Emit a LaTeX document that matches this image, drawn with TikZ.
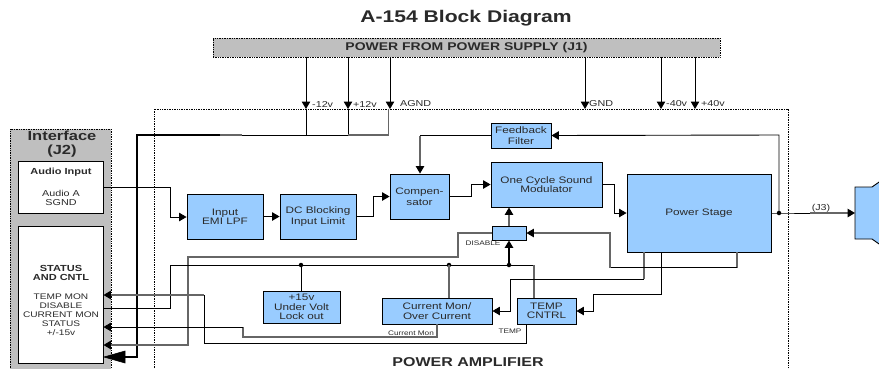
\documentclass[tikz,border=0pt]{standalone}
\usepackage{fontspec}
\setmainfont[FakeStretch=1.25,BoldFeatures={FakeStretch=1.25}]{Liberation Sans}
\usetikzlibrary{arrows.meta}
\definecolor{blk}{HTML}{99CCFF}
\definecolor{grp}{HTML}{BFBFBF}
\definecolor{grl}{HTML}{666666}
\definecolor{ink}{HTML}{2A2A2A}
\newcommand{\fs}[1]{\fontsize{#1}{#1}\selectfont}
\tikzset{
  block/.style={draw=black,fill=blk,line width=0.9pt,inner sep=0pt,align=center,text=ink,font=\fs{9.4}},
  wbox/.style={draw=black,fill=white,line width=0.9pt,inner sep=0pt,align=center,text=ink},
  pnl/.style={draw=black,fill=grp,densely dotted,line width=0.7pt},
  lbl/.style={inner sep=0pt,text=ink,font=\fs{8.6}},
  tiny/.style={inner sep=0pt,text=ink,font=\fs{6.6}},
  bl/.style={draw=black,line width=0.9pt},
  gl/.style={draw=grl,line width=1.4pt},
  to/.style={-{Triangle[length=7.5pt,width=8.5pt,color=black,fill=black]}},
  dot/.style={circle,fill=black,inner sep=0pt,minimum size=4.5pt}
}
\newcommand{\bx}[6]{\node[#1,minimum width=#5-#3,minimum height=#6-#4] (#2) at ({(#3+#5)/2},{(#4+#6)/2})}
\begin{document}
\begin{tikzpicture}[x=1pt,y=-1pt]
\clip (0,0) rectangle (879,368);
\fill[white] (0,0) rectangle (879,368);
\node[inner sep=0pt,font=\bfseries\fs{16.9},text=ink] (title) at (466,18) {A-154 Block Diagram};
% panels
\node[pnl,minimum width=507pt,minimum height=19pt,inner sep=0pt,font=\bfseries\fs{11.2},text=ink] (pwr) at (466.5,47.5) {POWER FROM POWER SUPPLY (J1)};
\draw[densely dotted,line width=0.7pt] (154,380) |- (788,109) -- (788,380);
\node[pnl,minimum width=101pt,minimum height=260pt,inner sep=0pt] (ifc) at (60.5,259) {};
\node[inner sep=0pt,align=center,font=\bfseries\fs{13.2},text=ink] (ifct) at (62,144) {Interface\\[0.5pt](J2)};
\node[inner sep=0pt,font=\bfseries\fs{12.8},text=ink] (pa) at (468,362) {POWER AMPLIFIER};
% white boxes
\bx{wbox}{audio}{18}{161}{103}{213} {};
\node[inner sep=0pt,font=\bfseries\fs{8.8},text=ink] (audiot) at (61,172) {Audio Input};
\node[lbl,align=center,font=\fs{8.6}] (audiol) at (61,197.5) {Audio A\\[0.5pt]SGND};
\bx{wbox}{stat}{18}{226}{103}{363} {};
\node[inner sep=0pt,align=center,font=\bfseries\fs{8.8},text=ink] (statt) at (61,273) {STATUS\\AND CNTL};
\node[inner sep=0pt,align=center,font=\fs{8.1},text=ink] (statl) at (61,314.5) {TEMP MON\\[1pt]DISABLE\\[1pt]CURRENT MON\\[1pt]STATUS\\[1pt]+/-15v};
% blue boxes
\bx{block}{emi}{187}{194}{263}{239} {Input\\EMI LPF};
\bx{block}{dcb}{280}{194}{356}{239} {DC Blocking\\[1pt]Input Limit};
\bx{block}{comp}{390}{174}{449}{219} {Compen-\\[1.5pt]sator};
\bx{block}{osm}{491}{162}{602}{207} {One Cycle Sound\\Modulator};
\bx{block}{fbf}{491}{123}{551}{148} {Feedback\\[1.5pt]Filter};
\bx{block}{pst}{627}{174}{771}{252} {Power Stage};
\bx{block}{dis}{492}{226}{526}{240} {};
\bx{block}{uvl}{263}{291}{340}{323} {+15v\\Under Volt\\Lock out};
\bx{block}{cmo}{382}{298}{492}{324} {Current Mon/\\Over  Current};
\bx{block}{tmp}{517}{298}{576}{324} {TEMP\\CNTRL};
% speaker
\draw[fill=blk,line width=0.9pt] (855,187) -- (872,187) -- (882,180) -- (882,246) -- (872,239) -- (855,239) -- cycle;
\coordinate (spk) at (855,213);
% free coordinates at the supply taps
\coordinate (m12) at (306,109); \coordinate (p12) at (348,109); \coordinate (agn) at (390,109);
\coordinate (gnd) at (585,109); \coordinate (m40) at (661,109); \coordinate (p40) at (695,109);
\foreach \c in {m12,p12,agn,gnd,m40,p40} \draw[bl,to,line width=1pt] (\c |- pwr.south) -- (\c);
\node[lbl,anchor=west] (lm12) at (312,104) {-12v};
\node[lbl,anchor=west] (lp12) at (353,104) {+12v};
\node[lbl,anchor=west] (lagn) at (400,104) {AGND};
\node[lbl,anchor=west] (lgnd) at (589,104) {GND};
\node[lbl,anchor=west] (lm40) at (666,104) {-40v};
\node[lbl,anchor=west] (lp40) at (701,104) {+40v};
% supply bus
\draw[bl,line width=1pt] (m12) -- (306,135);
\draw[bl,line width=1pt] (p12) -- (348,135);
\draw[gl,line width=1.1pt] (388.5,109) -- (388.5,135) -- (348,135);
\draw[bl] (348,135) -- (242,135);
\draw[grl,line width=1.2pt] (242,135) -- (220,135);
\coordinate (busin) at (104,357);
\draw[black,line width=2.4pt,line join=miter] (220,135) -- (137,135) -- (137,357) -- (122,357);
\draw[black,line width=0.6pt,fill=black] (busin) -- (125,351) -- (125,363) -- cycle;
% signal path
\draw[bl,to] (audio.east |- 0,187) -- (170,187) -- (170,217) -- (emi.west |- 0,217);
\draw[bl,to] (emi.east) -- (dcb.west);
\draw[bl,to] (dcb.east) -- (373,216.5) -- (373,196.5) -- (comp.west);
\draw[bl,to] (comp.east) -- (471,196.5) -- (471,184.5) -- (osm.west);
\draw[bl,to] (osm.east) -- (614,184.5) -- (614,213) -- (pst.west);
% feedback
\node[dot] (jfb) at (779,213) {};
\draw[bl,to] (jfb.center) -- (779,135) -- (fbf.east);
\draw[bl] (fbf.west) -- (420,135.5);
\draw[gl,to,line width=1.1pt] (420,135.5) -- (comp.north -| 420,0);
\draw[bl,line width=1pt] (pst.east) -- (jfb.center) -- (810,213);
\draw[gl,to] (810,213) -- (spk);
\node[lbl,anchor=south,font=\fs{8.6}] (j3) at (821,212) {(J3)};
% disable junction
\draw[gl,to,line width=1.1pt] (dis.north -| 509,0) -- (osm.south -| 509,0);
\node[dot] (j1) at (509,265) {};
\node[dot] (j2) at (449,265) {};
\node[dot] (j3d) at (301,265) {};
\draw[black,line width=1.4pt,to] (j1.center) -- (dis.south -| 509,0);
\node[tiny] (disl) at (483,243) {DISABLE};
\draw[gl,to] (dis.west) -- (458,233) -- (458,257) -- (188,257) -- (188,345) -- (stat.east |- 0,345);
% status rail
\draw[bl] (stat.east |- 0,308) -- (170,308) -- (170,265) -- (j1.center);
\draw[bl] (j1.center) -- (534,265);
\draw[gl,line width=1.1pt] (534,265) -- (tmp.north -| 534,0);
\draw[gl,line width=1.1pt] (j2.center) -- (cmo.north -| 449,0);
\draw[bl] (j3d.center) -- (uvl.north -| 301,0);
% monitors
\draw[gl] (cmo.south -| 437,0) -- (437,337) -- (243,337) -- (243,327);
\draw[bl,to] (243,327) -- (stat.east |- 0,327);
\node[tiny] (cml) at (411,333) {Current Mon};
\draw[bl] (tmp.south -| 526,0) -- (526,343) -- (204,343) -- (204,295);
\draw[gl,to] (204,295) -- (stat.east |- 0,295);
\node[tiny] (tl) at (510,331) {TEMP};
% power stage returns
\draw[gl,line width=1.1pt] (pst.south -| 644,0) -- (644,279);
\draw[bl,to] (644,279) -- (510,279) -- (510,311) -- (cmo.east |- 0,311);
\draw[bl,to] (pst.south -| 661,0) -- (661,294) -- (593,294) -- (593,311) -- (tmp.east |- 0,311);
\draw[gl,line width=1.1pt] (pst.south -| 737,0) -- (737,267.5);
\draw[bl] (737,267.5) -- (610,267.5);
\draw[gl,to,line width=1.1pt] (610,267.5) -- (610,233) -- (dis.east);
\end{tikzpicture}
\end{document}
